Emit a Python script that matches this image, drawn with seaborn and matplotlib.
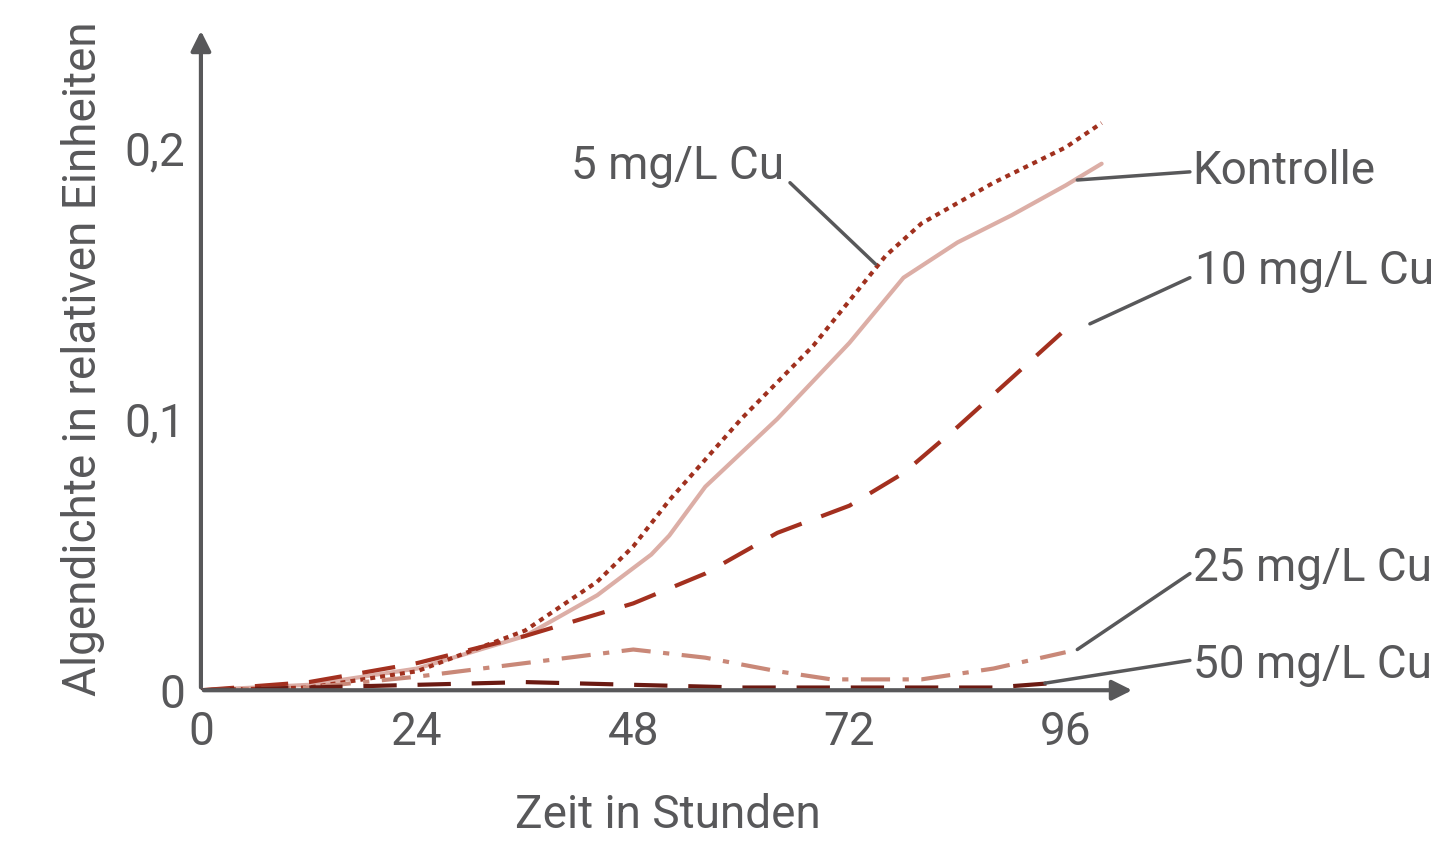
import numpy as np
import pandas as pd
import seaborn as sns
import matplotlib.pyplot as plt

sns.set_style("white")
plt.rcParams['font.family'] = ['Roboto', 'DejaVu Sans']

# values
t_kontrolle = [0, 12, 24, 36, 44, 50, 52, 56, 64, 72, 78, 84, 90, 96, 100]
y_kontrolle = [0, 0.002, 0.008, 0.02, 0.035, 0.05, 0.057, 0.075, 0.1, 0.128, 0.152, 0.165, 0.175, 0.186, 0.194]
t_5 = [0, 12, 24, 36, 44, 48, 52, 60, 68, 76, 80, 88, 96, 100]
y_5 = [0, 0.001, 0.007, 0.022, 0.04, 0.053, 0.07, 0.1, 0.127, 0.16, 0.172, 0.187, 0.2, 0.209]
t_10 = [0, 12, 24, 36, 48, 56, 64, 72, 78, 84, 90, 96]
y_10 = [0, 0.003, 0.01, 0.02, 0.032, 0.043, 0.058, 0.068, 0.08, 0.097, 0.115, 0.133]
t_25 = [0, 12, 24, 36, 48, 56, 64, 70, 80, 88, 96]
y_25 = [0, 0.001, 0.005, 0.01, 0.015, 0.012, 0.007, 0.004, 0.004, 0.008, 0.014]
t_50 = [0, 12, 24, 36, 48, 60, 72, 88, 96]
y_50 = [0, 0.001, 0.002, 0.003, 0.002, 0.001, 0.001, 0.001, 0.003]

grey = "#58585a"
fs = 33

fig = plt.figure(figsize=(14.56, 8.49), dpi=100)
ax = fig.add_axes([0.138, 0.187, 0.6415, 0.78])

sns.lineplot(x=t_kontrolle, y=y_kontrolle, ax=ax, color="#dcaea6", lw=3)
sns.lineplot(x=t_5, y=y_5, ax=ax, color="#a0301e", lw=3, linestyle=(0, (1.2, 1.2)))
sns.lineplot(x=t_10, y=y_10, ax=ax, color="#a3301f", lw=3, linestyle=(0, (8, 5)))
sns.lineplot(x=t_25, y=y_25, ax=ax, color="#c98878", lw=3, linestyle=(0, (7, 3, 1.5, 3)))
sns.lineplot(x=t_50, y=y_50, ax=ax, color="#6b1a12", lw=3, linestyle=(0, (8, 5)))

ax.set_xlim(0, 103.7)
ax.set_ylim(0, 0.244)
for s in ax.spines.values():
    s.set_visible(False)
ax.annotate("", xy=(1, 0), xytext=(0, 0), xycoords="axes fraction",
            arrowprops=dict(arrowstyle="-|>", color=grey, lw=3, mutation_scale=30))
ax.annotate("", xy=(0, 1), xytext=(0, 0), xycoords="axes fraction",
            arrowprops=dict(arrowstyle="-|>", color=grey, lw=3, mutation_scale=30))

ax.set_xticks([0, 24, 48, 72, 96])
ax.set_yticks([0, 0.1, 0.2])
ax.set_yticklabels(["0", "0,1", "0,2"])
ax.tick_params(axis="both", colors=grey, labelsize=fs, length=8, width=2.5, direction="out")
ax.tick_params(axis="x", pad=6)
ax.set_xlabel("Zeit in Stunden", fontsize=fs, color=grey, labelpad=28)
ax.set_ylabel("Algendichte in relativen Einheiten", fontsize=fs, color=grey, labelpad=14)

labels = [
    ("5 mg/L Cu", (64.8, 0.193), "right", (65.4, 0.187), (74.9, 0.157)),
    ("Kontrolle", (110.1, 0.1915), "left", (109.8, 0.191), (97.3, 0.188)),
    ("10 mg/L Cu", (110.4, 0.1545), "left", (109.8, 0.152), (98.7, 0.135)),
    ("25 mg/L Cu", (110.1, 0.045), "left", (109.8, 0.043), (97.3, 0.015)),
    ("50 mg/L Cu", (110.1, 0.0092), "left", (109.8, 0.011), (93.7, 0.0026)),
]
for txt, pos, ha, a, b in labels:
    ax.text(pos[0], pos[1], txt, ha=ha, va="center", fontsize=fs, color=grey, clip_on=False)
    ax.plot([a[0], b[0]], [a[1], b[1]], color=grey, lw=2.5, clip_on=False)

fig.savefig("out.png", dpi=100)
